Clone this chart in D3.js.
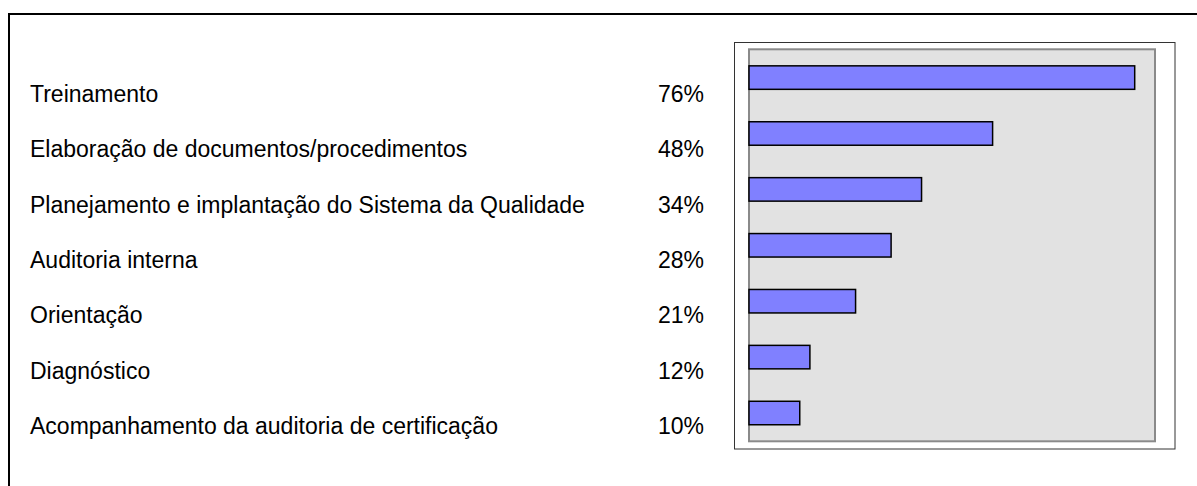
<!DOCTYPE html>
<html>
<head>
<meta charset="utf-8">
<script src="https://cdn.jsdelivr.net/npm/d3@7"></script>
<style>
  html, body { margin: 0; padding: 0; background: #fff; }
  svg { display: block; }
</style>
</head>
<body>
<svg id="chart" width="1197" height="486"></svg>
<script>
const categories = [
  "Treinamento",
  "Elaboração de documentos/procedimentos",
  "Planejamento e implantação do Sistema da Qualidade",
  "Auditoria interna",
  "Orientação",
  "Diagnóstico",
  "Acompanhamento da auditoria de certificação"
];
const values = [76, 48, 34, 28, 21, 12, 10];
const valueLabels = ["76%", "48%", "34%", "28%", "21%", "12%", "10%"];

const svg = d3.select("#chart");
const font = "'Liberation Sans', Arial, sans-serif";

// outer frame (top and left lines)
svg.append("line").attr("x1", 9).attr("x2", 1197).attr("y1", 14).attr("y2", 14)
  .attr("stroke", "#000").attr("stroke-width", 2);
svg.append("line").attr("x1", 9).attr("x2", 9).attr("y1", 13).attr("y2", 486)
  .attr("stroke", "#000").attr("stroke-width", 2);

// label table
const yLabel = d3.scalePoint().domain(categories).range([102, 434]);
svg.append("g").selectAll("text").data(categories).join("text")
  .attr("x", 30).attr("y", d => yLabel(d))
  .attr("font-family", font).attr("font-size", 23).attr("fill", "#000")
  .text(d => d);
svg.append("g").selectAll("text").data(categories).join("text")
  .attr("x", 704).attr("y", d => yLabel(d))
  .attr("text-anchor", "end")
  .attr("font-family", font).attr("font-size", 23).attr("fill", "#000")
  .text((d, i) => valueLabels[i]);

// chart frame
svg.append("rect").attr("x", 734.5).attr("y", 42.5).attr("width", 440.5).attr("height", 406.5)
  .attr("fill", "#fff").attr("stroke", "#333").attr("stroke-width", 1);

const plot = { left: 749, right: 1155, top: 49.3, bottom: 441.3 };
svg.append("rect").attr("x", plot.left).attr("y", plot.top)
  .attr("width", plot.right - plot.left).attr("height", plot.bottom - plot.top)
  .attr("fill", "#e2e2e2").attr("stroke", "#8a8a8a").attr("stroke-width", 2);

const x = d3.scaleLinear().domain([0, 80]).range([plot.left, plot.right]);
const y = d3.scaleBand().domain(categories).range([plot.top, plot.bottom])
  .paddingInner(0.58).paddingOuter(0.296);

svg.append("g").selectAll("rect").data(categories).join("rect")
  .attr("x", x(0)).attr("y", d => y(d))
  .attr("width", (d, i) => x(values[i]) - x(0))
  .attr("height", y.bandwidth())
  .attr("fill", "#8080ff").attr("stroke", "#000").attr("stroke-width", 1.5);
</script>
</body>
</html>
